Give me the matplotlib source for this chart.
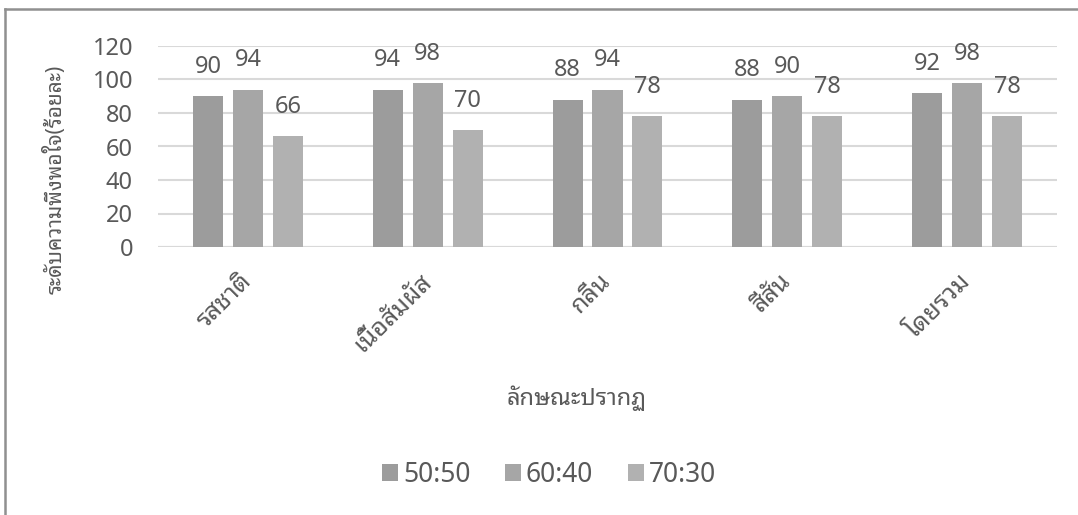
import matplotlib
matplotlib.use("Agg")
import matplotlib.pyplot as plt
from matplotlib.patches import Patch
from matplotlib.lines import Line2D
import numpy as np

plt.rcParams['font.family'] = ['Noto Sans', 'Noto Sans Thai Looped']

categories = ['รสชาติ', 'เนื้อสัมผัส', 'กลิ่น', 'สีสัน', 'โดยรวม']
series_names = ['50:50', '60:40', '70:30']
ratio_50_50 = [90, 94, 88, 88, 92]
ratio_60_40 = [94, 98, 94, 90, 98]
ratio_70_30 = [66, 70, 78, 78, 78]
colors = ['#9c9c9c', '#a6a6a6', '#b1b1b1']
text_color = '#595959'

W, H = 1078, 515
fig = plt.figure(figsize=(W / 100, H / 100), dpi=100)
ax = fig.add_axes([158 / W, 1 - 247 / H, (1057 - 158) / W, (247 - 46) / H])

x = np.arange(len(categories))
bw = 0.167
step = 0.222
for i, (vals, col) in enumerate(zip([ratio_50_50, ratio_60_40, ratio_70_30], colors)):
    pos = x + (i - 1) * step
    ax.bar(pos, vals, width=bw, color=col, zorder=3)
    for p, v in zip(pos, vals):
        ax.annotate(str(v), (p, v), xytext=(0, 21), textcoords='offset points',
                    ha='center', va='center', fontsize=17, color=text_color)

ax.set_xlim(-0.5, len(categories) - 0.5)
ax.set_ylim(0, 120)
ax.set_yticks(range(0, 121, 20))
ax.grid(axis='y', color='#d9d9d9', linewidth=1.5, zorder=0)
for s in ax.spines.values():
    s.set_visible(False)
ax.axhline(0, color='#d9d9d9', linewidth=1.5, zorder=1)
ax.tick_params(axis='both', length=0, labelsize=17, labelcolor=text_color)
ax.tick_params(axis='y', pad=18)
ax.set_xticks(x)
ax.set_xticklabels(categories, rotation=45, ha='right', va='center',
                   rotation_mode='anchor', fontsize=18)
ax.tick_params(axis='x', pad=22)

fig.text(55 / W, 1 - 179 / H, 'ระดับความพึงพอใจ(ร้อยละ)', rotation=90,
         ha='center', va='center', fontsize=15, fontweight='bold', color=text_color)
fig.text(577 / W, 1 - 398 / H, 'ลักษณะปรากฏ', ha='center', va='center',
         fontsize=17, color=text_color)

handles = [Patch(facecolor=c, edgecolor='none') for c in colors]
fig.legend(handles, series_names, loc='center', bbox_to_anchor=(549 / W, 1 - 475 / H),
           ncol=3, frameon=False, fontsize=19, labelcolor=text_color,
           handlelength=0.6, handleheight=0.6, handletextpad=0.2, columnspacing=1.3)

# outer chart border (top and left edges only)
fig.add_artist(Line2D([5 / W, 1], [1 - 9 / H, 1 - 9 / H], color='#909090', linewidth=1.8))
fig.add_artist(Line2D([5 / W, 5 / W], [0, 1 - 9 / H], color='#909090', linewidth=1.8))

fig.savefig('out.png', dpi=100, facecolor='white')
